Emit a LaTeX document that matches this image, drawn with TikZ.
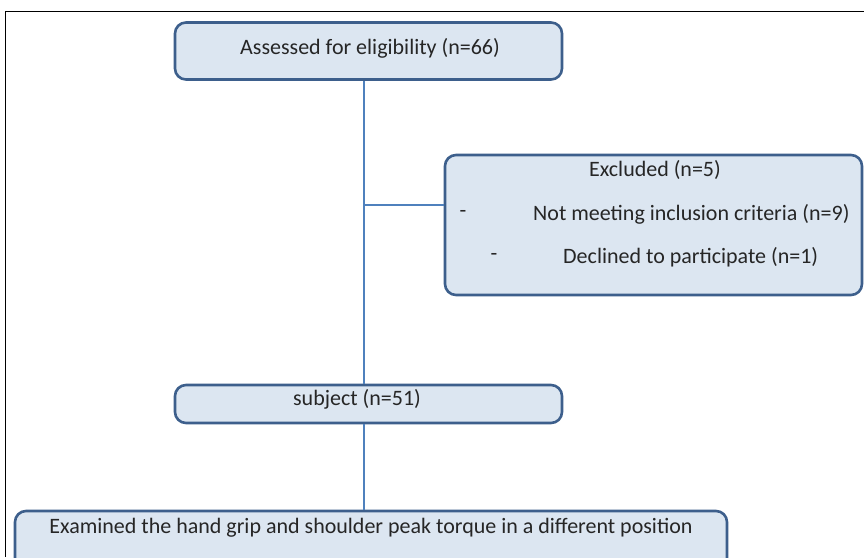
\documentclass[tikz,border=0pt]{standalone}
\usepackage{fontspec}
\setmainfont{Carlito}
\definecolor{boxfill}{HTML}{DCE6F1}
\definecolor{boxdraw}{HTML}{3D5F8C}
\definecolor{linkcol}{HTML}{4F81BD}
\begin{document}
\begin{tikzpicture}[x=1pt,y=-1pt,
  flowbox/.style={draw=boxdraw,fill=boxfill,line width=2.6pt,rounded corners=11pt,inner sep=0pt},
  lbl/.style={inner sep=0pt,font=\fontsize{22}{26}\selectfont,text=black!85},
  link/.style={draw=linkcol,line width=1.4pt}]
\useasboundingbox (0,0) rectangle (864,557);
\clip (0,0) rectangle (864,557);
\fill[white] (0,0) rectangle (864,557);
\draw[black,line width=1pt] (5,557) -- (5,11) -- (864,11);
% boxes
\node[flowbox,minimum width=387pt,minimum height=57pt] (assess) at (368.5,51) {};
\node[flowbox,minimum width=417pt,minimum height=140pt] (excl) at (653.5,225) {};
\node[flowbox,minimum width=387pt,minimum height=38pt] (subj) at (368.5,404) {};
\node[flowbox,minimum width=712pt,minimum height=70pt] (exam) at (371,546) {};
% connectors
\coordinate (spine) at (364,0);
\coordinate (branch) at (364,205);
\draw[link] (spine |- assess.south) -- (spine |- subj.north);
\draw[link] (branch) -- (branch -| excl.west);
\draw[link] (spine |- subj.south) -- (spine |- exam.north);
% texts
\node[lbl] (t1) at (370,48) {Assessed for eligibility (n=66)};
\node[lbl] (t2) at (655,170) {Excluded (n=5)};
\node[lbl] (d1) at (463,214) {-};
\node[lbl,anchor=west] (t3) at (533,214) {Not meeting inclusion criteria (n=9)};
\node[lbl] (d2) at (494,257) {-};
\node[lbl,anchor=west] (t4) at (563,257) {Declined to participate (n=1)};
\node[lbl] (t5) at (357,399) {subject (n=51)};
\node[lbl] (t6) at (371,528) {Examined the hand grip and shoulder peak torque in a different position};
\end{tikzpicture}
\end{document}
